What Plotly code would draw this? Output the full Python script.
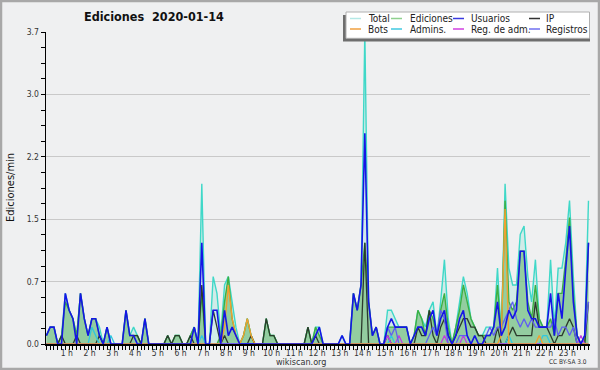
import plotly.graph_objects as go

# 10-minute buckets (minutes since midnight)
slot_min = list(range(0, 1440, 10))

total = [
    0.1, 0.2, 0.2, 0, 0.1, 0.6,
    0.4, 0.3, 0.1, 0.6, 0.3, 0.1,
    0.3, 0.3, 0.2, 0, 0.2, 0,
    0, 0, 0, 0.4, 0.1, 0.2,
    0.1, 0, 0.3, 0, 0, 0,
    0, 0, 0.1, 0, 0.1, 0.1,
    0, 0, 0.1, 0.2, 0, 1.9,
    0, 0, 0.8, 0.6, 0.1, 0.7,
    0.8, 0.5, 0.2, 0, 0.1, 0.3,
    0.1, 0, 0, 0, 0.3, 0.1,
    0.1, 0, 0, 0, 0, 0,
    0, 0, 0, 0.2, 0, 0.2,
    0.2, 0, 0, 0, 0, 0,
    0.1, 0, 0, 0.6, 0.4, 0.7,
    3.7, 0.5, 0.1, 0.2, 0, 0,
    0.4, 0.4, 0.3, 0.2, 0.2, 0.2,
    0, 0.1, 0.4, 0.3, 0.2, 0.4,
    0.5, 0.1, 0.5, 1.0, 0.3, 0,
    0.2, 0.5, 0.8, 0.6, 0.3, 0.2,
    0.1, 0.1, 0.2, 0.2, 0.2, 0.9,
    0.1, 1.9, 0.9, 0.7, 0.7, 1.3,
    1.4, 0.8, 0.5, 1.0, 0.3, 0.2,
    0.2, 1.0, 0.2, 0.9, 0.9, 1.2,
    1.7, 0.8, 0.1, 0, 0.1, 1.7,
]
ediciones = [
    0.1, 0.2, 0.2, 0, 0.1, 0.5,
    0.4, 0.3, 0.1, 0.6, 0.3, 0.1,
    0.3, 0.3, 0.1, 0, 0.2, 0,
    0, 0, 0, 0.4, 0.1, 0.1,
    0.1, 0, 0.3, 0, 0, 0,
    0, 0, 0.1, 0, 0.1, 0.1,
    0, 0, 0.1, 0.2, 0, 0.6,
    0, 0, 0, 0, 0.1, 0.5,
    0.8, 0.3, 0.1, 0, 0.1, 0.3,
    0.1, 0, 0, 0, 0.3, 0.1,
    0.1, 0, 0, 0, 0, 0,
    0, 0, 0, 0.2, 0, 0.2,
    0.1, 0, 0, 0, 0, 0,
    0, 0, 0, 0.6, 0.4, 0.7,
    1.2, 0.5, 0.1, 0.2, 0, 0,
    0.2, 0.2, 0.2, 0.2, 0.2, 0.2,
    0, 0.1, 0.4, 0.3, 0.1, 0.4,
    0.3, 0.1, 0.4, 0.6, 0.2, 0,
    0.2, 0.4, 0.7, 0.5, 0.3, 0.2,
    0.1, 0.1, 0.1, 0.1, 0.2, 0.7,
    0.1, 1.7, 0.5, 0.4, 0.5, 1.1,
    1.1, 0.5, 0.3, 0.7, 0.3, 0.2,
    0.2, 0.3, 0.1, 0.6, 0.6, 1.0,
    1.5, 0.6, 0.1, 0, 0, 1.2,
]
usuarios = [
    0.1, 0.2, 0.2, 0, 0, 0.6,
    0.4, 0.3, 0, 0.6, 0.3, 0.1,
    0.3, 0.3, 0.1, 0, 0.2, 0,
    0, 0, 0, 0.4, 0.1, 0.1,
    0, 0, 0.3, 0, 0, 0,
    0, 0, 0, 0, 0, 0,
    0, 0, 0, 0.2, 0, 1.2,
    0, 0, 0.4, 0.4, 0, 0.4,
    0.1, 0.2, 0.1, 0, 0, 0,
    0, 0, 0, 0, 0, 0,
    0, 0, 0, 0, 0, 0,
    0, 0, 0, 0, 0, 0.1,
    0.2, 0, 0, 0, 0, 0,
    0.1, 0, 0, 0.6, 0.4, 0.7,
    2.5, 0.5, 0.1, 0.2, 0, 0,
    0.2, 0.3, 0.2, 0.2, 0.2, 0.2,
    0, 0.1, 0.2, 0.2, 0.1, 0.3,
    0.4, 0.1, 0.3, 0.4, 0.1, 0,
    0.1, 0.3, 0.4, 0.1, 0, 0.1,
    0, 0, 0.1, 0.1, 0.2, 0.5,
    0.1, 0.2, 0.4, 0.3, 0.4, 1.1,
    1.1, 0.4, 0.3, 0.3, 0.2, 0.2,
    0.2, 0.6, 0.1, 0.6, 0.3, 0.9,
    1.4, 0.5, 0.1, 0, 0.1, 1.2,
]
ip = [
    0, 0, 0, 0, 0.1, 0,
    0, 0, 0.1, 0, 0, 0,
    0, 0, 0.1, 0, 0, 0,
    0, 0, 0, 0, 0, 0.1,
    0.1, 0, 0, 0, 0, 0,
    0, 0, 0.1, 0, 0.1, 0.1,
    0, 0, 0.1, 0, 0, 0.7,
    0, 0, 0.4, 0.2, 0, 0.1,
    0, 0, 0, 0, 0, 0,
    0.1, 0, 0, 0, 0.3, 0.1,
    0.1, 0, 0, 0, 0, 0,
    0, 0, 0, 0.2, 0, 0.1,
    0, 0, 0, 0, 0, 0,
    0, 0, 0, 0, 0, 0,
    1.2, 0, 0, 0, 0, 0,
    0.1, 0, 0, 0, 0, 0,
    0, 0, 0.2, 0.1, 0.1, 0.4,
    0.1, 0, 0.2, 0.3, 0.1, 0,
    0.1, 0.2, 0.3, 0.3, 0.2, 0.2,
    0.1, 0.1, 0, 0, 0, 0.2,
    0, 0, 0.1, 0.2, 0.1, 0.1,
    0.1, 0.1, 0.1, 0.5, 0.2, 0.2,
    0.2, 0.1, 0, 0.1, 0.1, 0.2,
    0.3, 0.2, 0, 0, 0, 0.5,
]
bots = [
    0, 0, 0, 0, 0, 0,
    0, 0, 0, 0, 0, 0,
    0, 0, 0, 0, 0, 0,
    0, 0, 0, 0, 0, 0,
    0, 0, 0, 0, 0, 0,
    0, 0, 0, 0, 0, 0,
    0, 0, 0, 0, 0, 0,
    0, 0, 0, 0, 0, 0.2,
    0.7, 0.3, 0.1, 0, 0.1, 0.3,
    0.1, 0, 0, 0, 0, 0,
    0, 0, 0, 0, 0, 0,
    0, 0, 0, 0, 0, 0,
    0, 0, 0, 0, 0, 0,
    0, 0, 0, 0, 0, 0,
    0, 0, 0, 0, 0, 0,
    0, 0, 0, 0, 0, 0,
    0, 0, 0, 0, 0, 0,
    0, 0, 0, 0, 0, 0,
    0, 0, 0, 0, 0, 0,
    0, 0, 0, 0, 0, 0,
    0.1, 1.6, 0, 0, 0, 0,
    0, 0, 0, 0, 0.1, 0,
    0, 0, 0, 0, 0, 0,
    0, 0, 0, 0, 0, 0,
]
admins = [
    0, 0, 0, 0, 0, 0,
    0, 0, 0, 0, 0, 0,
    0.2, 0.1, 0, 0, 0, 0.1,
    0, 0, 0, 0, 0, 0,
    0, 0, 0, 0, 0, 0,
    0, 0, 0, 0, 0, 0,
    0, 0, 0, 0, 0, 0.1,
    0, 0, 0, 0, 0, 0,
    0, 0, 0, 0, 0, 0,
    0, 0, 0, 0, 0, 0,
    0, 0, 0, 0, 0, 0,
    0, 0, 0, 0, 0, 0,
    0, 0, 0, 0, 0, 0,
    0, 0, 0, 0, 0, 0,
    0, 0, 0, 0, 0, 0,
    0, 0.1, 0, 0, 0, 0,
    0, 0, 0, 0, 0, 0,
    0, 0, 0, 0, 0, 0,
    0, 0, 0, 0, 0, 0,
    0, 0, 0, 0, 0, 0,
    0, 0, 0.1, 0, 0, 0,
    0, 0, 0, 0, 0, 0.1,
    0.1, 0, 0, 0, 0, 0,
    0, 0, 0, 0, 0, 0,
]
reg_adm = [
    0, 0, 0, 0, 0, 0,
    0, 0, 0, 0, 0, 0,
    0, 0, 0, 0, 0, 0,
    0, 0, 0, 0, 0, 0,
    0, 0, 0, 0, 0, 0,
    0, 0, 0, 0, 0, 0,
    0, 0, 0, 0, 0, 0,
    0, 0, 0, 0, 0, 0,
    0, 0, 0, 0, 0, 0,
    0, 0, 0, 0, 0, 0,
    0, 0, 0, 0, 0, 0,
    0, 0, 0, 0, 0, 0,
    0, 0, 0, 0, 0, 0,
    0, 0, 0, 0, 0, 0,
    0, 0, 0, 0, 0, 0,
    0.1, 0, 0, 0.1, 0, 0,
    0, 0, 0, 0, 0, 0,
    0, 0, 0, 0.1, 0, 0,
    0, 0, 0.1, 0, 0, 0,
    0, 0, 0, 0, 0, 0,
    0, 0, 0, 0, 0, 0,
    0, 0, 0, 0, 0, 0,
    0, 0, 0, 0, 0, 0,
    0, 0, 0, 0.1, 0, 0,
]
registros = [
    0, 0, 0, 0, 0, 0,
    0, 0, 0, 0, 0, 0,
    0, 0, 0, 0, 0, 0,
    0, 0, 0, 0, 0, 0,
    0, 0, 0, 0, 0, 0,
    0, 0, 0, 0, 0, 0,
    0, 0, 0, 0, 0, 0,
    0, 0, 0, 0, 0, 0,
    0, 0, 0, 0, 0, 0,
    0, 0, 0, 0, 0, 0,
    0, 0, 0, 0, 0, 0,
    0, 0, 0, 0, 0, 0,
    0, 0, 0, 0, 0, 0,
    0, 0, 0, 0, 0, 0,
    0, 0, 0, 0, 0, 0,
    0.2, 0.1, 0.2, 0, 0, 0,
    0, 0, 0, 0, 0, 0.1,
    0.2, 0.1, 0.4, 0.3, 0, 0,
    0, 0.1, 0.1, 0.1, 0, 0,
    0, 0, 0.1, 0.2, 0.1, 0.2,
    0.2, 0.3, 0.4, 0.5, 0.3, 0.2,
    0.3, 0.2, 0.3, 0.2, 0.2, 0.2,
    0.2, 0.2, 0.3, 0.1, 0.2, 0.2,
    0.1, 0.2, 0, 0, 0.1, 0.5,
]

hour_labels = [f"{h} h" for h in range(1, 24)]
y_ticks = [0, 0.74, 1.48, 2.22, 2.96, 3.7]
y_ticktext = ["0.0", "0.7", "1.5", "2.2", "3.0", "3.7"]

legend_names = ["Total", "Ediciones", "Usuarios", "IP",
                "Bots", "Admins.", "Reg. de adm.", "Registros"]
legend_colors = ["#b4e8e6", "#8fd08f", "#3a3ae0", "#333333",
                 "#f0a040", "#40c8e0", "#d040e0", "#7070f0"]

FONT = "DejaVu Sans Condensed, DejaVu Sans"
W, H = 600, 370
L, R, T, B = 46, 10, 32, 26
PW, PH = W - L - R, H - T - B


def px(x):
    return (x - L) / PW


def py(y):
    return (H - B - y) / PH


fig = go.Figure()


def add(y, color, width, fill=None, fillcolor=None):
    fig.add_trace(go.Scatter(
        x=slot_min, y=y, mode="lines",
        line=dict(color=color, width=width),
        fill=fill, fillcolor=fillcolor,
        showlegend=False, hoverinfo="skip"))


add(total, "#3fd8c8", 1.4, "tozeroy", "rgba(165,228,220,0.4)")
add(ediciones, "#3cb043", 1.4, "tozeroy", "rgba(118,190,125,0.68)")
add(ip, "#2c3a2c", 1.3)
add(admins, "#30c8e0", 1.3)
add(reg_adm, "#c040e0", 1.3)
add(registros, "#6060f0", 1.3)
add(bots, "#f0a030", 1.4)
add(usuarios, "#1515e6", 1.6)

shapes = []
annotations = []

# outer frame
shapes.append(dict(type="rect", xref="paper", yref="paper",
                   x0=px(1), x1=px(W - 1), y0=py(H - 1), y1=py(1),
                   line=dict(color="#a8a8a8", width=2.5), layer="below"))

# legend box with shadow
shapes.append(dict(type="rect", xref="paper", yref="paper",
                   x0=px(343), x1=px(590), y0=py(41.5), y1=py(15),
                   line=dict(width=0), fillcolor="#6e6e6e"))
shapes.append(dict(type="rect", xref="paper", yref="paper",
                   x0=px(346), x1=px(589.5), y0=py(38.3), y1=py(12),
                   line=dict(color="#b0b0b0", width=1), fillcolor="white"))
col_line = [350, 391, 453, 529]
col_text = [366, 407.5, 468.5, 544]
row_y = [18.5, 29]
for k, (name, col) in enumerate(zip(legend_names, legend_colors)):
    r, c = divmod(k, 4)
    shapes.append(dict(type="line", xref="paper", yref="paper",
                       x0=px(col_line[c]), x1=px(col_line[c] + 11),
                       y0=py(row_y[r]), y1=py(row_y[r]),
                       line=dict(color=col, width=1.5)))
    annotations.append(dict(xref="paper", yref="paper", x=px(col_text[c]),
                            y=py(row_y[r]), text=name, showarrow=False,
                            xanchor="left", yanchor="middle",
                            font=dict(family=FONT, size=10, color="#222")))

annotations.append(dict(xref="paper", yref="paper", x=px(154), y=py(17),
                        text="<b>Ediciones  2020-01-14</b>", showarrow=False,
                        xanchor="center", yanchor="middle",
                        font=dict(family=FONT, size=12.5, color="#111")))
annotations.append(dict(xref="paper", yref="paper", x=px(10), y=py(188),
                        text="Ediciones/min", showarrow=False, textangle=-90,
                        xanchor="center", yanchor="middle",
                        font=dict(family=FONT, size=11, color="#111")))
annotations.append(dict(xref="paper", yref="paper", x=px(300.5), y=py(361.5),
                        text="wikiscan.org", showarrow=False,
                        xanchor="center", yanchor="middle",
                        font=dict(family=FONT, size=9, color="#333")))
annotations.append(dict(xref="paper", yref="paper", x=px(589), y=py(362),
                        text="CC BY-SA 3.0", showarrow=False,
                        xanchor="right", yanchor="middle",
                        font=dict(family=FONT, size=6.5, color="#333")))

fig.update_layout(
    width=W, height=H,
    margin=dict(l=L, r=R, t=T, b=B, pad=0),
    paper_bgcolor="#eff0f1", plot_bgcolor="#eff0f1",
    shapes=shapes, annotations=annotations,
    font=dict(family=FONT, size=9, color="#333"),
    hovermode=False,
    xaxis=dict(range=[-1, 1434], showgrid=False, zeroline=False,
               showline=True, linecolor="black", linewidth=2,
               tickmode="array",
               tickvals=[60 * h - 6 for h in range(1, 24)],
               ticktext=hour_labels, ticks="", ticklen=0,
               tickfont=dict(family=FONT, size=8.5, color="#333"),
               minor=dict(tick0=0, dtick=10, ticks="outside", ticklen=4,
                          tickcolor="black", tickwidth=1, showgrid=False)),
    yaxis=dict(range=[0, 3.7], showgrid=True, gridcolor="#c9c9c9",
               gridwidth=1, zeroline=False, showline=True,
               linecolor="black", linewidth=1.5,
               tickmode="array", tickvals=y_ticks, ticktext=y_ticktext,
               ticks="outside", ticklen=4, tickcolor="black",
               tickfont=dict(family=FONT, size=8.5, color="#333"),
               minor=dict(tick0=0, dtick=0.185, ticks="outside", ticklen=4,
                          tickcolor="black", showgrid=False)),
)

fig.write_html("out.html",
               config={"displayModeBar": False, "staticPlot": True},
               post_script="document.body.style.margin='0px';"
                           "document.body.style.overflow='hidden';")
